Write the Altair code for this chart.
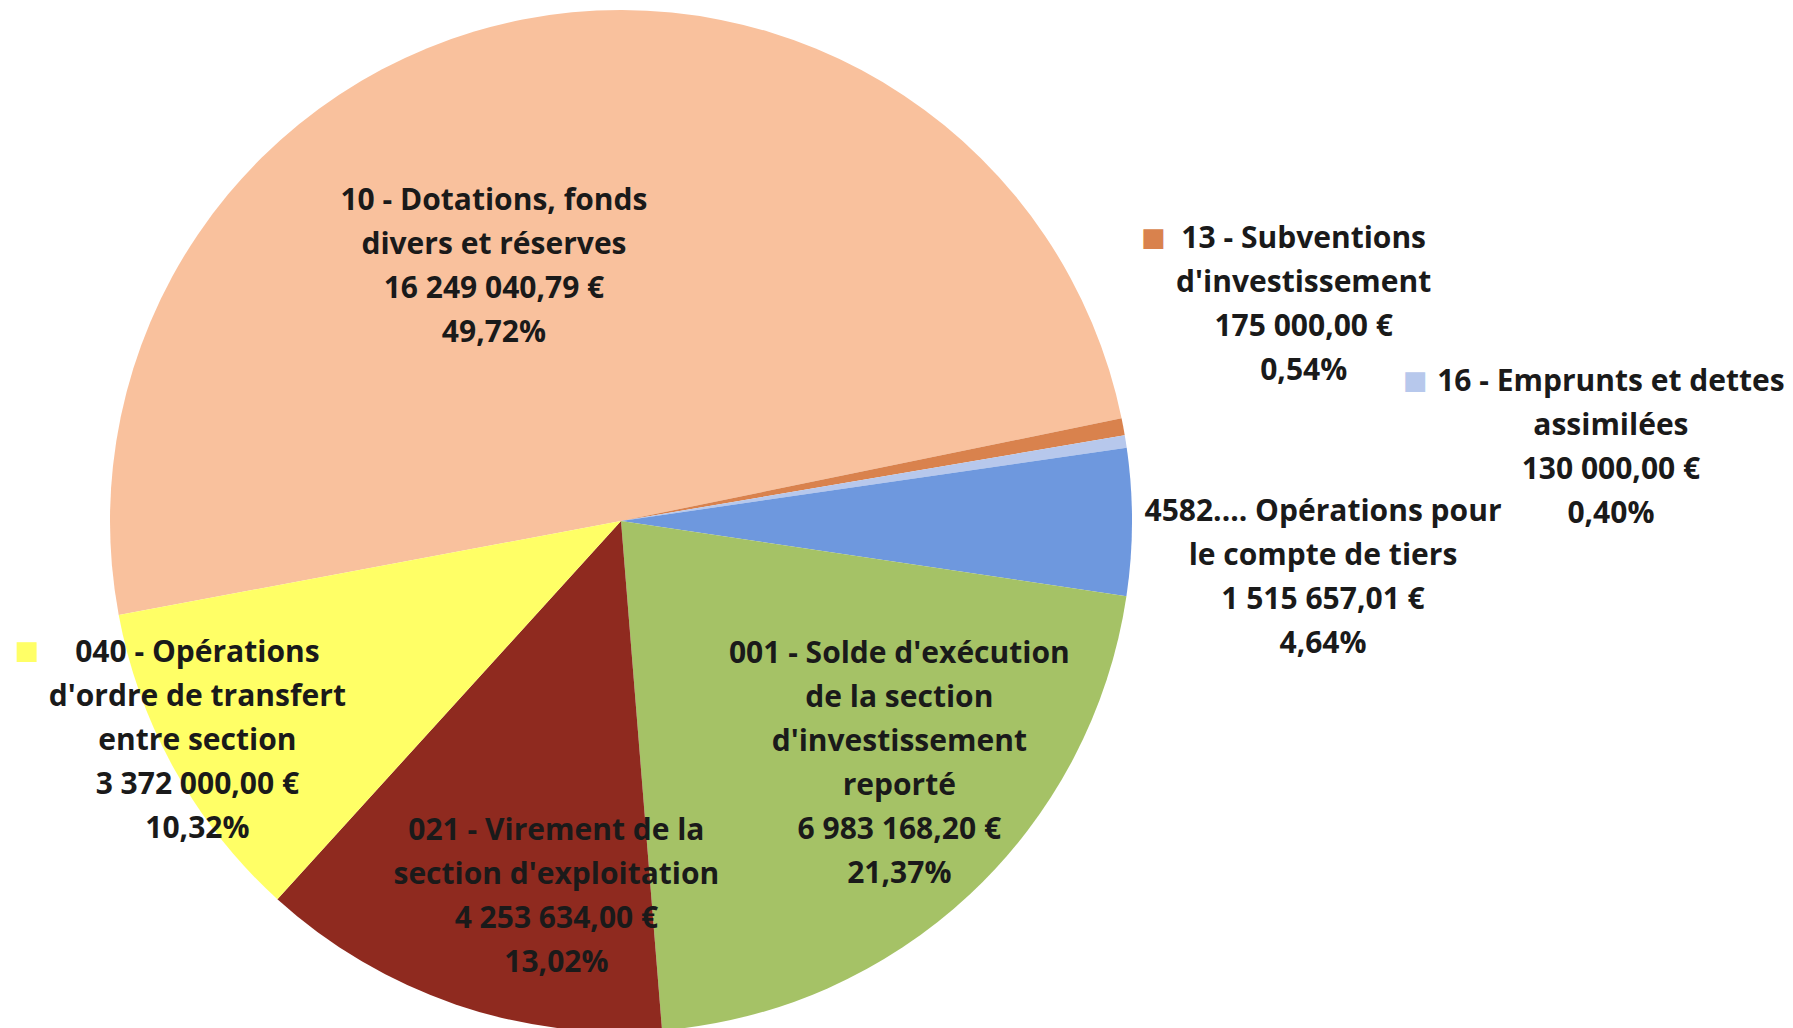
import math
import altair as alt
import pandas as pd

# ---- data ----
categories = ["10", "13", "16", "4582", "001", "021", "040"]
name_lines = [
    "10 - Dotations, fonds\ndivers et réserves",
    "13 - Subventions\nd'investissement",
    "16 - Emprunts et dettes\nassimilées",
    "4582.... Opérations pour\nle compte de tiers",
    "001 - Solde d'exécution\nde la section\nd'investissement\nreporté",
    "021 - Virement de la\nsection d'exploitation",
    "040 - Opérations\nd'ordre de transfert\nentre section",
]
amounts = [16249040.79, 175000.00, 130000.00, 1515657.01, 6983168.20, 4253634.00, 3372000.00]
amount_labels = ["16 249 040,79 €", "175 000,00 €", "130 000,00 €", "1 515 657,01 €",
                 "6 983 168,20 €", "4 253 634,00 €", "3 372 000,00 €"]
percent_labels = ["49,72%", "0,54%", "0,40%", "4,64%", "21,37%", "13,02%", "10,32%"]
colors = ["#F9C19D", "#D9824D", "#B7C8EC", "#6E98DE", "#A5C266", "#8F2A1F", "#FFFF66"]

df = pd.DataFrame({
    "cat": categories,
    "amount": amounts,
    "order": list(range(len(categories))),
    "label": [f"{n}\n{a}\n{p}" for n, a, p in zip(name_lines, amount_labels, percent_labels)],
    "key": ["■"] * len(categories),
})

# ---- layout ----
CX, CY, R = 613, 513, 511
LH = 44
start = math.radians(259.4)
theta_scale = alt.Scale(range=[start, start + 2 * math.pi])
color_scale = alt.Scale(domain=categories, range=colors)

# label placement: radius, dx, dy (of block centre), number of lines
label_layout = {
    "10": (286, -72, 27, 4),
    "13": (717, -22, -84, 4),
    "16": (993, 9, 81, 4),
    "4582": (704, -2, 56, 4),
    "001": (368, 27, -26, 6),
    "021": (380, 58, 16, 4),
    "040": (476, -8, -12, 5),
}
# legend keys shown beside some labels: radius, dx, dy
key_layout = {
    "13": (603, -60, -172),
    "16": (806, -2, -15),
    "040": (608, -63, -166),
}

base = alt.Chart(df).encode(
    theta=alt.Theta("amount:Q", stack=True, scale=theta_scale),
    order=alt.Order("order:Q"),
    detail="cat:N",
)

pie = base.mark_arc(outerRadius=R).encode(
    color=alt.Color("cat:N", scale=color_scale, legend=None),
    x=alt.value(CX), y=alt.value(CY),
)

layers = [pie]
for cat, (r, dx, dy, n) in label_layout.items():
    layers.append(
        base.mark_text(
            radius=r, dx=dx, dy=dy - (n - 1) * LH / 2, align="center", baseline="middle",
            lineBreak="\n", lineHeight=LH, font="Open Sans", fontSize=30,
            fontWeight="bold", color="#1a1a1a",
        ).encode(
            x=alt.value(CX), y=alt.value(CY),
            text=alt.condition(alt.datum.cat == cat, "label:N", alt.value("")),
        )
    )
for cat, (r, dx, dy) in key_layout.items():
    layers.append(
        base.mark_text(
            radius=r, dx=dx, dy=dy, align="center", baseline="middle",
            font="DejaVu Sans", fontSize=26,
        ).encode(
            x=alt.value(CX), y=alt.value(CY),
            color=alt.Color("cat:N", scale=color_scale, legend=None),
            text=alt.condition(alt.datum.cat == cat, "key:N", alt.value("")),
        )
    )

chart = alt.layer(*layers).properties(
    width=1777, height=1020, padding=0, autosize="none",
).configure_view(stroke=None)

chart.save("out.html", embed_options={"renderer": "svg", "actions": False})
